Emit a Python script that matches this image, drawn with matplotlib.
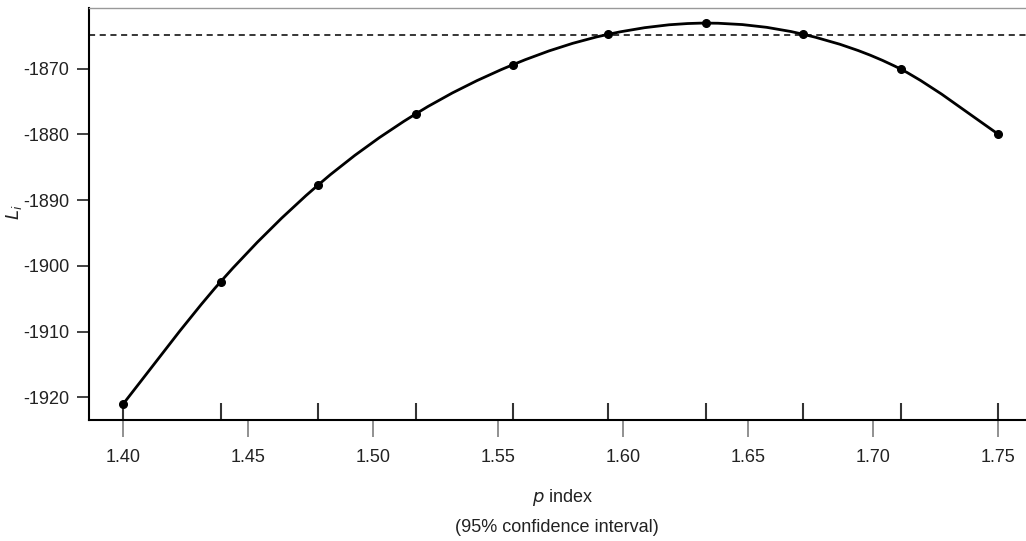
import numpy as np
import matplotlib
matplotlib.use("Agg")
import matplotlib.pyplot as plt
from matplotlib.path import Path
from matplotlib.patches import PathPatch

# ---- data ----
p_values = [1.400, 1.439, 1.478, 1.517, 1.556, 1.594, 1.633, 1.672, 1.711, 1.750]
loglik = [-1921.0, -1902.4, -1887.7, -1876.9, -1869.4, -1864.8, -1863.1, -1864.8, -1870.1, -1880.0]
ci_level = -1864.95
xticks = [1.40, 1.45, 1.50, 1.55, 1.60, 1.65, 1.70, 1.75]
xtick_labels = ["1.40", "1.45", "1.50", "1.55", "1.60", "1.65", "1.70", "1.75"]
yticks = [-1920, -1910, -1900, -1890, -1880, -1870]
ytick_labels = ["-1920", "-1910", "-1900", "-1890", "-1880", "-1870"]

plt.rcParams['font.family'] = ['Liberation Sans Narrow', 'Liberation Sans', 'DejaVu Sans']

W, H = 1026, 541
fig = plt.figure(figsize=(W / 100, H / 100), dpi=100)
left, right, top, bottom = 89, 1030, 8, 420
ax = fig.add_axes([left / W, (H - bottom) / H, (right - left) / W, (bottom - top) / H])

ax.set_xlim(1.3863, 1.40 + (right - 123.3) / 2500)
ax.set_ylim(-1923.45, -1860.8)

# smooth curve through the points (Catmull-Rom as bezier path)
x = np.array(p_values); y = np.array(loglik)
verts = [(x[0], y[0])]
codes = [Path.MOVETO]
n = len(x)
for i in range(n - 1):
    p0 = (x[max(i - 1, 0)], y[max(i - 1, 0)])
    p1 = (x[i], y[i]); p2 = (x[i + 1], y[i + 1])
    p3 = (x[min(i + 2, n - 1)], y[min(i + 2, n - 1)])
    c1 = (p1[0] + (p2[0] - p0[0]) / 6, p1[1] + (p2[1] - p0[1]) / 6)
    c2 = (p2[0] - (p3[0] - p1[0]) / 6, p2[1] - (p3[1] - p1[1]) / 6)
    verts += [c1, c2, p2]
    codes += [Path.CURVE4] * 3
ax.add_patch(PathPatch(Path(verts, codes), fill=False, lw=2.0, color='black', zorder=3))
ax.plot(p_values, loglik, 'o', color='black', ms=5.5, zorder=4)

ax.axhline(ci_level, color='black', lw=1.1, ls=(0, (4, 3)), zorder=2)

# spines
ax.spines['right'].set_visible(False)
ax.spines['top'].set_color('#999999')
ax.spines['top'].set_linewidth(1.0)
ax.spines['left'].set_linewidth(1.5)
ax.spines['bottom'].set_linewidth(1.5)

# major x ticks: outward, gray
ax.xaxis.remove_overlapping_locs = False
ax.set_xticks(xticks)
ax.set_xticklabels(xtick_labels)
ax.tick_params(axis='x', which='major', direction='out', length=12, width=1.3,
               color='#888888', labelsize=13, pad=9, labelcolor='#222222')
# minor x ticks at data points: inward, dark
ax.set_xticks(p_values, minor=True)
ax.tick_params(axis='x', which='minor', direction='in', length=12, width=1.5, color='#333333')

ax.set_yticks(yticks)
ax.set_yticklabels(ytick_labels)
ax.tick_params(axis='y', direction='out', length=9, width=1.3, color='#333333',
               labelsize=13, pad=5, labelcolor='#222222')

fig.text(563 / W, 1 - 497 / H, r'$\it{p}$ index', ha='center', va='center', fontsize=13, color='#222222')
fig.text(557 / W, 1 - 528 / H, '(95% confidence interval)', ha='center', va='center', fontsize=13, color='#222222')
fig.text(14 / W, 1 - 212 / H, r'$L_i$', ha='center', va='center', rotation=90, fontsize=13, color='#222222')

fig.savefig('out.png', dpi=100)
